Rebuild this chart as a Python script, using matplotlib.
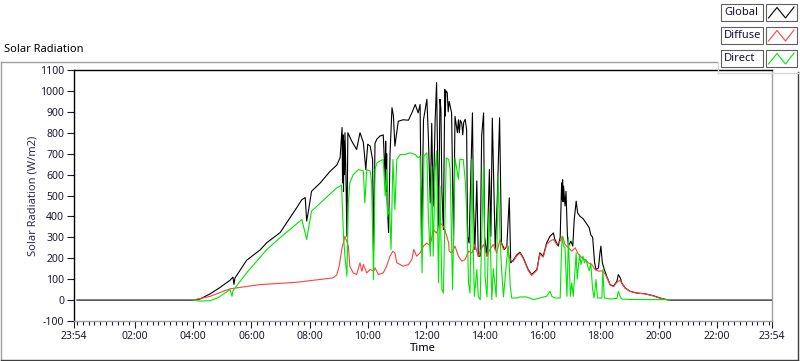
import matplotlib
matplotlib.use("Agg")
import matplotlib.pyplot as plt
from matplotlib.lines import Line2D
from matplotlib.patches import Rectangle
from matplotlib.ticker import FixedLocator

plt.rcParams['font.family'] = ['Noto Sans', 'DejaVu Sans']

# ---- data (minutes after midnight, W/m2) ----
global_t = [0, 240, 254, 275, 295, 316, 322, 324, 326, 350, 378, 392, 419, 453, 464, 471, 474, 478, 484, 502,
            522, 536, 543, 547, 548, 549, 550, 551, 552, 553, 555, 557, 559, 563, 567, 577, 584, 591, 596, 600,
            605, 610, 612, 615, 619, 625, 632, 636, 637, 638, 639, 640, 641, 643, 646, 650, 653, 656, 663, 673,
            684, 691, 698, 704, 708, 711, 715, 722, 725, 729, 732, 735, 739, 742, 746, 749, 751, 753, 756, 759,
            760, 761, 762, 764, 766, 768, 773, 777, 780, 785, 787, 789, 791, 794, 796, 798, 801, 804, 806, 809,
            813, 816, 818, 821, 825, 828, 832, 835, 839, 841, 846, 851, 854, 857, 863, 867, 872, 876, 882, 887,
            892, 895, 900, 907, 914, 921, 931, 938, 949, 955, 962, 969, 976, 983, 986, 993, 997, 1000, 1001,
            1002, 1003, 1004, 1007, 1009, 1012, 1014, 1019, 1023, 1026, 1030, 1033, 1038, 1044, 1048, 1053, 1057,
            1060, 1064, 1068, 1071, 1076, 1079, 1081, 1084, 1088, 1093, 1100, 1107, 1114, 1117, 1121, 1124, 1131,
            1141, 1155, 1172, 1189, 1203, 1217, 1222, 1440]
global_v = [0, 0, 5, 30, 60, 95, 110, 75, 105, 190, 240, 275, 322, 440, 480, 490, 378, 430, 520, 560,
            615, 645, 680, 825, 560, 790, 520, 760, 600, 800, 600, 305, 800, 780, 760, 720, 800, 753, 624, 745,
            736, 672, 242, 750, 770, 784, 790, 577, 760, 520, 700, 480, 420, 323, 700, 920, 880, 736, 855, 862,
            860, 895, 935, 895, 935, 258, 862, 960, 785, 465, 845, 450, 855, 1040, 353, 960, 911, 520, 337, 1007,
            880, 990, 1000, 992, 900, 950, 895, 273, 878, 800, 862, 800, 860, 845, 790, 850, 864, 815, 305, 273,
            624, 895, 465, 242, 570, 210, 210, 785, 895, 305, 210, 624, 305, 870, 242, 465, 872, 273, 242, 258,
            489, 178, 190, 215, 229, 202, 146, 122, 146, 226, 210, 273, 305, 321, 290, 258, 300, 560, 480,
            575, 470, 545, 450, 520, 305, 258, 282, 258, 385, 473, 417, 400, 390, 377, 360, 345,
            313, 300, 178, 146, 154, 225, 258, 178, 146, 114, 74, 66, 90, 122, 106, 82, 58,
            42, 34, 30, 21, 10, 2, 0, 0]

diffuse_t = [240, 275, 316, 378, 453, 528, 536, 541, 547, 553, 560, 563, 570, 577, 584, 588, 591, 598, 605, 612,
             615, 622, 632, 639, 646, 652, 656, 660, 667, 673, 684, 691, 695, 701, 708, 715, 722, 729, 735, 742,
             749, 756, 759, 763, 767, 768, 773, 780, 787, 794, 801, 808, 815, 821, 828, 839, 846, 852, 859, 866,
             873, 880, 887, 894, 900, 907, 914, 921, 931, 938, 949, 955, 962, 969, 976, 983, 990, 997, 1002, 1007,
             1014, 1021, 1028, 1035, 1042, 1048, 1055, 1062, 1069, 1076, 1083, 1088, 1093, 1100, 1107, 1114, 1117,
             1121, 1124, 1131, 1141, 1155, 1172, 1189, 1203, 1217, 1222]
diffuse_v = [0, 18, 54, 74, 85, 106, 120, 162, 250, 305, 258, 162, 130, 122, 178, 138, 170, 130, 146, 138,
             154, 122, 130, 162, 210, 234, 225, 178, 170, 162, 170, 194, 242, 210, 225, 258, 273, 258, 337, 320,
             370, 353, 337, 305, 273, 234, 225, 258, 210, 186, 194, 234, 225, 266, 210, 266, 210, 242, 266, 225,
             290, 242, 258, 190, 185, 210, 225, 198, 142, 118, 142, 220, 205, 265, 282, 290, 266, 282, 305, 266,
             250, 234, 250, 218, 202, 194, 178, 170, 146, 138, 140, 130, 110, 72, 64, 85, 90,
             95, 80, 57, 42, 33, 30, 20, 9, 2, 0]

direct_t = [240, 254, 275, 290, 316, 320, 322, 350, 392, 419, 464, 474, 484, 536, 543, 546, 550, 553, 557, 560,
            563, 570, 581, 591, 594, 598, 605, 608, 612, 615, 619, 625, 632, 636, 639, 641, 645, 648, 652, 656,
            660, 667, 677, 687, 698, 704, 708, 712, 716, 722, 725, 729, 732, 735, 739, 742, 746, 749, 753, 756,
            759, 762, 767, 770, 775, 780, 787, 790, 797, 801, 804, 808, 811, 815, 818, 820, 825, 828, 832, 835,
            839, 842, 846, 851, 856, 859, 865, 869, 873, 876, 880, 887, 890, 894, 897, 907, 914, 928, 942, 955,
            969, 976, 980, 986, 997, 999, 1001, 1004, 1007, 1011, 1014, 1018, 1021, 1024, 1030, 1032, 1037, 1040,
            1044, 1047, 1050, 1054, 1057, 1060, 1064, 1067, 1071, 1074, 1083, 1085, 1088, 1100, 1114, 1117, 1121,
            1124, 1140, 1217, 1222]
direct_v = [0, -5, -3, 10, 50, 18, 45, 130, 242, 298, 385, 290, 425, 537, 545, 550, 305, 210, 114, 465,
            560, 600, 624, 617, 465, 624, 617, 560, 98, 624, 656, 665, 672, 497, 624, 400, 440, 242, 672, 433,
            672, 696, 696, 704, 696, 680, 688, 130, 688, 704, 400, 210, 640, 210, 620, 712, 82, 545, 50, 34,
            350, 680, 672, 624, 50, 680, 577, 672, 672, 577, 433, 82, 34, 672, 210, 18, 146, 18, 2, 300,
            640, 114, 15, 433, 2, 150, 15, 592, 305, 150, 15, 200, 258, 66, 10, 10, 15, 15, 2, 10,
            18, 42, 18, 10, 10, 178, 305, 258, 250, 18, 300, 18, 82, 18, 226, 100, 218, 170,
            210, 178, 194, 162, 140, 178, 50, 10, 98, 10, 10, 146, 10, 5, 8, 42, 15,
            5, 3, 2, 0]

major_ticks = [-6, 120, 240, 360, 480, 600, 720, 840, 960, 1080, 1200, 1320, 1434]
major_labels = ["23:54", "02:00", "04:00", "06:00", "08:00", "10:00", "12:00", "14:00", "16:00",
                "18:00", "20:00", "22:00", "23:54"]
y_ticks = list(range(-100, 1101, 100))
series_names = ["Global", "Diffuse", "Direct"]
series_colors = ["#000000", "#ff4040", "#00e600"]

W, H = 800, 361
fig = plt.figure(figsize=(W / 100, H / 100), dpi=100)
fig.patch.set_facecolor("white")

def fx(x):
    return x / W

def fy(y):
    return 1 - y / H

# outer frame
fig.add_artist(Line2D([fx(0.5), fx(717)], [fy(62), fy(62)], color="#a0a0a0", lw=1))
fig.add_artist(Line2D([fx(0.5), fx(0.5)], [fy(62), fy(360)], color="#a0a0a0", lw=1))
fig.add_artist(Line2D([fx(0.5), fx(797.5)], [fy(359.5), fy(359.5)], color="#404040", lw=1))
fig.add_artist(Line2D([fx(797.5), fx(797.5)], [fy(72), fy(360)], color="#404040", lw=1))

ax = fig.add_axes([fx(74), fy(321), fx(772) - fx(74), fy(70) - fy(321)])
ax.set_facecolor("white")
lw = 0.8
ax.plot(global_t, global_v, color=series_colors[0], lw=lw, zorder=3)
ax.plot(diffuse_t, diffuse_v, color=series_colors[1], lw=lw, zorder=4)
ax.plot(direct_t, direct_v, color=series_colors[2], lw=lw, zorder=5)

ax.set_xlim(-6, 1434)
ax.set_ylim(-100, 1100)
ax.xaxis.set_major_locator(FixedLocator(major_ticks))
ax.set_xticklabels(major_labels)
ax.xaxis.set_minor_locator(FixedLocator([m for m in range(0, 1434, 12) if m not in major_ticks]))
ax.set_yticks(y_ticks)
ax.set_yticklabels([str(v) for v in y_ticks])

tick_color = "#1a1a30"
ax.tick_params(axis="both", which="major", direction="out", length=5, width=0.8,
               color=tick_color, labelcolor=tick_color, labelsize=7.5, pad=2)
ax.tick_params(axis="x", which="minor", direction="out", length=3, width=0.8, color=tick_color)

for side in ["top", "left"]:
    ax.spines[side].set_color("black")
    ax.spines[side].set_linewidth(1)
for side in ["bottom", "right"]:
    ax.spines[side].set_color("#a0a0a0")
    ax.spines[side].set_linewidth(1)

ax.set_xlabel("Time", fontsize=8, color="black", labelpad=1)
ax.set_ylabel("Solar Radiation (W/m2)", fontsize=8, color="#2a2a55", labelpad=1)

fig.text(fx(4), fy(50), "Solar Radiation", fontsize=8, color="black", va="center", ha="left")

# legend panel
fig.add_artist(Line2D([fx(717.5), fx(717.5)], [fy(62), fy(72.5)], color="#d8d8d8", lw=1))
fig.add_artist(Line2D([fx(717.5), fx(800)], [fy(72.5), fy(72.5)], color="#d8d8d8", lw=1))
rows = [(4, 21), (27, 44), (50, 67)]
for (y0, y1), name, col in zip(rows, series_names, series_colors):
    fig.add_artist(Rectangle((fx(721), fy(y1)), fx(763) - fx(721), fy(y0) - fy(y1),
                             transform=fig.transFigure, facecolor="white", edgecolor="#606060", lw=0.8))
    fig.add_artist(Rectangle((fx(766), fy(y1)), fx(797) - fx(766), fy(y0) - fy(y1),
                             transform=fig.transFigure, facecolor="white", edgecolor="#606060", lw=0.8))
    fig.text(fx(724), fy((y0 + y1) / 2), name, fontsize=8, color="#101030", va="center", ha="left")
    zx = [768.5, 777, 785.5, 794]
    zy = [y1 - 3, y0 + 3.5, y1 - 3, y0 + 3]
    fig.add_artist(Line2D([fx(v) for v in zx], [fy(v) for v in zy], color=col, lw=0.8))

fig.savefig("out.png", dpi=100)
